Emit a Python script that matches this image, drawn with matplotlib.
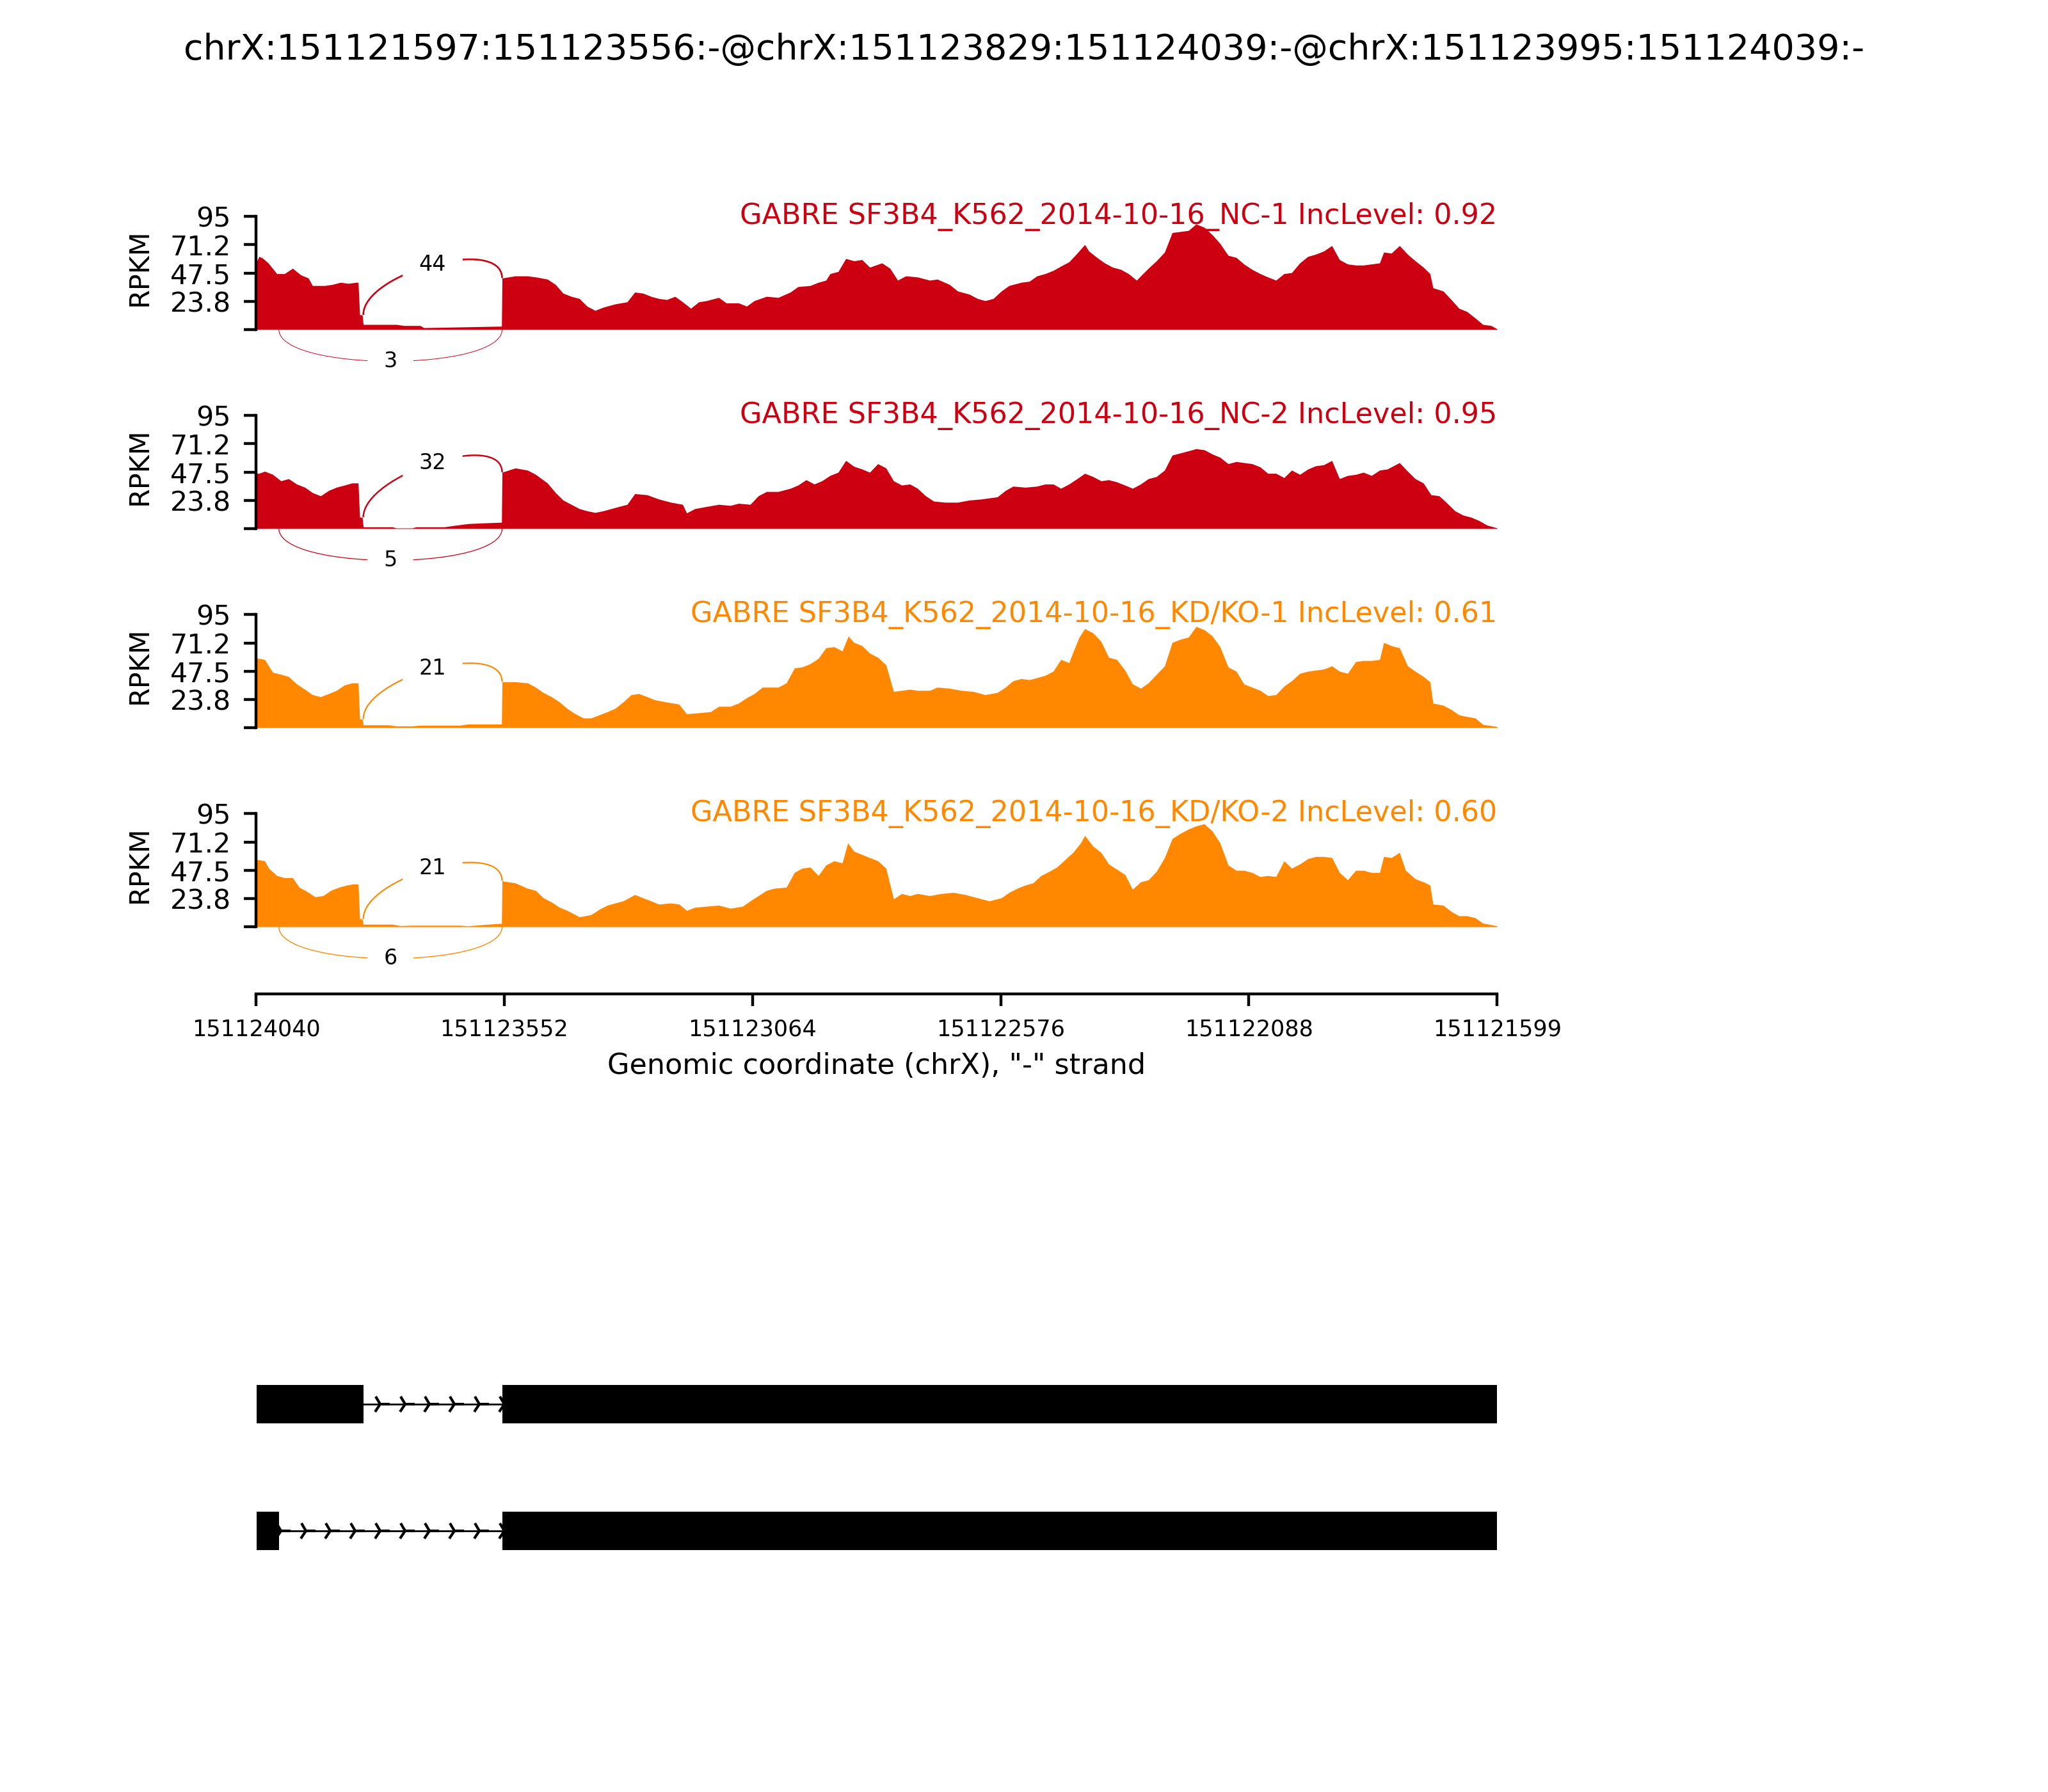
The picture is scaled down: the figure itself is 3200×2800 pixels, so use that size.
import numpy as np
import matplotlib
matplotlib.use('Agg')
import matplotlib.pyplot as plt
from matplotlib.path import Path
from matplotlib.patches import PathPatch, Rectangle

# Region (minus strand, so the axis runs from high to low coordinate)
region_left = 151124040
region_right = 151121599
event_title = 'chrX:151121597:151123556:-@chrX:151123829:151124039:-@chrX:151123995:151124039:-'
xlabel_text = 'Genomic coordinate (chrX), "-" strand'

sample_names = ['GABRE SF3B4_K562_2014-10-16_NC-1',
                'GABRE SF3B4_K562_2014-10-16_NC-2',
                'GABRE SF3B4_K562_2014-10-16_KD/KO-1',
                'GABRE SF3B4_K562_2014-10-16_KD/KO-2']
inc_levels = [0.92, 0.95, 0.61, 0.60]
sample_colors = ['#CC0011', '#CC0011', '#FF8800', '#FF8800']

# Junctions (genomic start, end) and read counts per sample
jxn_upper = (151123829, 151123556)
jxn_lower = (151123995, 151123556)
upper_counts = [44, 32, 21, 21]
lower_counts = [3, 5, 0, 6]

# Isoforms (exon start, end)
iso1_exons = [(151123829, 151124039), (151121597, 151123556)]
iso2_exons = [(151123995, 151124039), (151121597, 151123556)]

ymax = 95
ytick_labels = ['', '23.8', '47.5', '71.2', '95']
xtick_labels = ['151124040', '151123552', '151123064', '151122576', '151122088', '151121599']

# Coverage: distance in bp from region_left, and RPKM
nc1_off = [0, 6, 13, 24, 41, 56, 72, 88, 103, 111, 135, 150, 166, 182, 197, 201, 204, 209,
           211, 276, 291, 323, 330, 370, 417, 479, 483,
           484, 510, 534, 550, 573, 589, 604, 620, 636, 651, 667, 683, 706, 730, 745, 761, 777,
           792, 808, 824, 839, 855, 871, 886, 910, 925, 949, 965, 980, 1004, 1027, 1051, 1066,
           1090, 1106, 1121, 1129, 1145, 1160, 1176, 1192, 1207, 1231, 1247, 1262, 1278, 1301,
           1325, 1340, 1364, 1380, 1403, 1419, 1434, 1450, 1466, 1481, 1505, 1521, 1536, 1552,
           1568, 1583, 1599, 1615, 1630, 1638, 1654, 1669, 1685, 1701, 1716, 1732, 1740, 1755,
           1771, 1787, 1802, 1818, 1834, 1849, 1865, 1881, 1896, 1912, 1928, 1943, 1959, 1975,
           1990, 2006, 2022, 2037, 2053, 2069, 2084, 2100, 2116, 2131, 2147, 2163, 2178, 2194,
           2210, 2218, 2233, 2249, 2265, 2280, 2296, 2309, 2315, 2335, 2351, 2366, 2382, 2398,
           2413, 2429, 2441]
nc1_rpkm = [55.9, 61.4, 60.0, 55.9, 46.9, 46.9, 51.4, 45.9, 43.2, 36.9, 36.9, 37.8, 39.6, 38.7,
            39.6, 39.6, 12.3, 12.3,
            4.2, 4.2, 3.3, 3.3, 1.5, 1.8, 2.2, 2.7, 2.7,
            43.2, 45.0, 45.0, 44.1, 42.3, 37.8, 30.5, 27.8, 26.0, 19.6, 16.0, 18.7, 21.4, 23.2,
            31.4, 30.5, 27.8, 26.0, 25.1, 27.8, 23.2, 17.8, 23.2, 24.2, 26.9, 22.3, 22.3, 19.6,
            24.2, 27.8, 26.9, 31.4, 36.0, 36.9, 39.6, 41.4, 46.9, 48.7, 59.6, 57.7, 58.7, 52.3,
            55.9, 51.4, 41.4, 45.0, 44.1, 41.4, 42.3, 37.8, 32.3, 29.6, 26.0, 24.2, 26.0, 32.3,
            36.9, 39.6, 40.5, 45.0, 46.9, 49.6, 53.2, 56.8, 64.1, 71.4, 65.9, 60.5, 55.9, 52.3,
            50.5, 46.9, 41.4, 45.0, 51.4, 57.7, 65.0, 81.4, 82.3, 83.2, 88.6, 85.9, 79.5, 72.3,
            62.3, 60.5, 55.0, 50.5, 46.9, 44.1, 41.4, 46.9, 47.8, 55.9, 61.4, 63.2, 65.9, 70.5,
            58.7, 55.0, 54.1, 54.1, 55.0, 55.9, 65.0, 64.1, 70.5, 63.2, 57.7, 52.3, 46.9, 35.0,
            32.3, 25.0, 17.8, 15.0, 9.6, 4.2, 3.3, 0.5]

nc2_off = [0, 6, 17, 33, 49, 64, 80, 96, 111, 127, 143, 158, 174, 189, 201, 204, 209,
           211, 268, 276, 307, 315, 370, 385, 417, 448, 479, 483,
           484, 510, 534, 550, 573, 589, 604, 620, 636, 651, 667, 683, 706, 730, 745, 769, 792,
           816, 839, 847, 863, 886, 910, 933, 949, 972, 988, 1004, 1027, 1051, 1066, 1082, 1098,
           1113, 1129, 1145, 1160, 1176, 1192, 1207, 1223, 1239, 1254, 1270, 1286, 1301, 1317,
           1333, 1356, 1380, 1403, 1427, 1442, 1458, 1474, 1489, 1513, 1536, 1552, 1568, 1583,
           1599, 1615, 1630, 1646, 1662, 1677, 1693, 1709, 1724, 1740, 1755, 1771, 1787, 1802,
           1818, 1834, 1849, 1865, 1881, 1896, 1912, 1928, 1943, 1959, 1975, 1990, 2006, 2022,
           2037, 2053, 2069, 2084, 2100, 2116, 2131, 2147, 2163, 2178, 2194, 2210, 2225, 2249,
           2265, 2280, 2296, 2311, 2327, 2343, 2358, 2374, 2390, 2405, 2421, 2441]
nc2_rpkm = [46.4, 46.4, 48.2, 45.5, 40.1, 41.9, 37.4, 34.7, 30.2, 27.5, 32.0, 34.7, 36.5, 38.3,
            38.3, 9.5, 9.5,
            1.4, 1.4, 0.5, 0.5, 1.4, 1.4, 2.3, 4.1, 4.7, 5.2, 5.2,
            47.3, 50.9, 49.1, 45.5, 38.3, 30.2, 23.9, 20.3, 16.7, 14.9, 13.5, 14.9, 17.6, 20.3,
            29.3, 28.4, 24.8, 22.1, 20.3, 13.1, 16.7, 18.5, 20.3, 19.4, 21.2, 20.3, 27.5, 31.1,
            31.1, 33.8, 36.5, 41.0, 37.4, 40.1, 44.6, 47.3, 57.2, 52.3, 50.0, 47.3, 54.5, 50.9,
            40.1, 36.5, 37.4, 33.8, 27.5, 23.0, 22.1, 22.1, 23.9, 24.8, 25.7, 26.6, 32.0, 35.6,
            34.7, 35.6, 37.4, 37.4, 33.8, 37.4, 41.9, 46.4, 43.7, 40.1, 41.0, 39.2, 36.5, 33.8,
            37.4, 41.9, 43.7, 49.1, 61.7, 63.5, 65.3, 67.1, 66.2, 62.6, 59.9, 54.5, 56.3, 55.4,
            54.5, 51.8, 46.4, 46.4, 42.8, 49.1, 45.5, 50.0, 52.7, 53.6, 57.2, 41.9, 44.6, 45.5,
            47.3, 44.6, 49.1, 50.0, 55.4, 48.2, 41.9, 38.3, 28.4, 27.5, 21.2, 14.9, 11.3, 9.5,
            6.8, 2.9, 0.5]

kd1_off = [0, 6, 17, 33, 49, 64, 80, 96, 111, 127, 143, 158, 174, 189, 201, 204, 209,
           211, 260, 276, 307, 323, 401, 417, 483,
           484, 510, 534, 550, 565, 581, 597, 612, 628, 644, 659, 675, 691, 706, 722, 738, 753,
           769, 785, 808, 832, 847, 871, 894, 910, 933, 949, 965, 980, 996, 1027, 1043, 1059,
           1074, 1090, 1106, 1121, 1137, 1153, 1165, 1176, 1192, 1207, 1223, 1239, 1254, 1270,
           1286, 1301, 1325, 1340, 1364, 1387, 1411, 1434, 1458, 1474, 1489, 1505, 1521, 1536,
           1552, 1568, 1583, 1599, 1607, 1619, 1630, 1646, 1662, 1677, 1693, 1709, 1724, 1740,
           1755, 1771, 1787, 1802, 1818, 1834, 1849, 1865, 1881, 1896, 1912, 1928, 1943, 1959,
           1975, 1990, 2006, 2022, 2037, 2053, 2069, 2084, 2100, 2116, 2131, 2147, 2163, 2178,
           2194, 2210, 2218, 2233, 2249, 2265, 2280, 2296, 2309, 2315, 2335, 2351, 2366, 2382,
           2398, 2413, 2441]
kd1_rpkm = [58.2, 58.2, 57.3, 46.5, 44.8, 43.0, 36.7, 32.2, 27.7, 26.0, 28.6, 31.3, 35.8, 37.6,
            37.6, 7.2, 7.2,
            2.3, 2.3, 1.4, 1.4, 2.0, 2.0, 3.0, 3.0,
            38.5, 38.5, 37.6, 34.0, 29.5, 26.0, 21.5, 16.1, 11.6, 8.1, 8.1, 10.7, 13.4, 16.1,
            21.5, 27.7, 28.6, 26.0, 23.3, 21.5, 19.7, 11.6, 12.5, 13.4, 17.9, 17.9, 20.6, 25.1,
            28.6, 34.0, 34.0, 37.6, 50.1, 51.0, 53.7, 58.2, 67.1, 68.0, 64.4, 77.0, 71.6, 68.9,
            62.6, 59.1, 52.8, 30.4, 31.3, 32.2, 31.3, 31.3, 34.0, 33.1, 31.3, 30.4, 27.7, 29.5,
            34.0, 39.4, 41.2, 40.3, 42.0, 43.9, 47.4, 57.3, 54.6, 63.5, 76.0, 83.2, 79.7, 72.5,
            59.1, 57.3, 48.3, 36.7, 33.1, 37.6, 44.8, 51.9, 71.6, 74.3, 76.1, 85.0, 82.3, 77.0,
            68.0, 51.0, 47.4, 36.7, 34.0, 31.3, 26.9, 27.7, 34.9, 39.4, 45.6, 47.4, 48.3, 49.2,
            51.9, 47.4, 45.6, 55.5, 56.4, 56.4, 57.3, 71.6, 68.9, 67.1, 51.9, 47.4, 43.0, 38.5,
            20.6, 18.8, 15.2, 10.7, 9.3, 8.1, 2.7, 0.9]

kd2_off = [0, 6, 17, 25, 41, 56, 72, 85, 100, 116, 132, 147, 163, 179, 191, 201, 204, 209,
           211, 268, 283, 307, 401, 417, 448, 479, 483,
           484, 510, 534, 550, 565, 581, 597, 612, 636, 659, 675, 691, 706, 722, 745, 761, 777,
           792, 816, 832, 847, 863, 886, 910, 933, 957, 972, 988, 1004, 1019, 1043, 1059, 1074,
           1090, 1106, 1121, 1137, 1153, 1164, 1176, 1192, 1207, 1223, 1239, 1254, 1270, 1286,
           1301, 1325, 1348, 1372, 1395, 1419, 1442, 1466, 1481, 1497, 1513, 1528, 1544, 1560,
           1575, 1591, 1607, 1622, 1630, 1646, 1662, 1677, 1693, 1709, 1724, 1740, 1755, 1771,
           1787, 1802, 1818, 1834, 1849, 1865, 1881, 1896, 1912, 1928, 1943, 1959, 1975, 1990,
           2006, 2022, 2037, 2053, 2069, 2084, 2100, 2116, 2131, 2147, 2163, 2178, 2194, 2210,
           2218, 2233, 2249, 2261, 2280, 2296, 2309, 2315, 2335, 2351, 2366, 2382, 2398, 2413,
           2441]
kd2_rpkm = [56.3, 56.3, 55.4, 49.2, 43.0, 41.2, 41.2, 33.2, 29.7, 25.2, 26.1, 30.5, 33.2, 35.0,
            35.9, 35.9, 6.6, 6.6,
            2.1, 2.1, 0.9, 1.2, 1.2, 0.7, 1.8, 2.7, 2.7,
            38.5, 36.8, 32.3, 30.5, 24.3, 20.8, 16.3, 13.7, 8.3, 10.1, 14.6, 18.1, 19.9, 21.7,
            27.0, 24.3, 21.7, 19.0, 19.9, 19.0, 13.7, 16.3, 17.2, 18.1, 15.5, 17.2, 21.7, 26.1,
            30.5, 32.3, 33.2, 45.6, 49.2, 50.1, 43.0, 51.9, 55.4, 53.6, 70.5, 63.4, 60.7, 58.1,
            55.4, 49.2, 23.4, 27.9, 26.1, 27.9, 26.1, 27.9, 28.8, 27.0, 24.3, 21.7, 24.3, 28.8,
            32.3, 35.0, 36.8, 43.0, 46.5, 50.1, 56.3, 62.5, 70.5, 76.7, 67.8, 62.5, 52.7, 48.3,
            43.9, 31.4, 37.7, 39.4, 46.5, 58.1, 74.1, 78.5, 82.1, 84.7, 86.5, 80.3, 70.5, 51.9,
            47.4, 47.4, 45.6, 42.1, 43.0, 42.1, 55.4, 49.2, 52.7, 57.2, 59.0, 59.0, 58.1, 45.6,
            39.4, 47.4, 47.4, 45.6, 45.6, 59.0, 58.1, 62.5, 47.4, 40.3, 37.7, 35.0, 19.0, 18.1,
            12.8, 9.2, 9.2, 7.5, 3.0, 0.7]

coverage = [(nc1_off, nc1_rpkm), (nc2_off, nc2_rpkm), (kd1_off, kd1_rpkm), (kd2_off, kd2_rpkm)]

fig = plt.figure(figsize=(8, 7), dpi=400)
fig.suptitle(event_title, fontsize=10, y=0.972, va='center')

ymin = -0.5 * ymax
h = -3 * ymin / 4
ax_left, ax_width = 0.125, 0.606
panel_h = 0.0946
panel_bottoms = [0.7846, 0.6735, 0.5624, 0.4513]

for i, (off, rpkm) in enumerate(coverage):
    ax = fig.add_axes([ax_left, panel_bottoms[i], ax_width, panel_h])
    color = sample_colors[i]
    off = np.array(off)
    rpkm = np.array(rpkm)
    pos = region_left - off
    ax.fill_between(pos, rpkm, 0, color=color, lw=0)

    # upper junction: from last base before the jump to first base after it
    s1, s2 = jxn_upper
    il = np.searchsorted(off, region_left - s1, side='left') - 1
    ir = np.searchsorted(off, region_left - s2, side='left')
    yl, yr = rpkm[il], rpkm[ir]
    pts = [(s1, yl), (s1, yl + h), (s2, yr + h), (s2, yr)]
    codes = [Path.MOVETO, Path.CURVE4, Path.CURVE4, Path.CURVE4]
    n = upper_counts[i]
    ax.add_patch(PathPatch(Path(pts, codes), ec=color, fc='none', lw=0.29 * np.log10(n + 1)))
    mx = (s1 + s2) / 2
    my = (yl + 3 * (yl + h) + 3 * (yr + h) + yr) / 8
    ax.text(mx, my, str(n), fontsize=6, ha='center', va='center', backgroundcolor='w')

    # lower junction
    n = lower_counts[i]
    if n > 0:
        s1, s2 = jxn_lower
        pts = [(s1, 0), (s1, -h), (s2, -h), (s2, 0)]
        ax.add_patch(PathPatch(Path(pts, codes), ec=color, fc='none', lw=0.29 * np.log10(n + 1)))
        ax.text((s1 + s2) / 2, -0.75 * h, str(n), fontsize=6, ha='center', va='center',
                backgroundcolor='w')

    ax.set_xlim(region_left, region_right)
    ax.set_ylim(ymin, ymax)
    ax.spines['top'].set_visible(False)
    ax.spines['right'].set_visible(False)
    ax.spines['left'].set_bounds(0, ymax)
    ax.set_yticks(np.linspace(0, ymax, 5))
    ax.set_yticklabels(ytick_labels, fontsize=7.7)
    ax.set_ylabel('RPKM', fontsize=7.7)
    ax.yaxis.set_label_coords(-0.083, 0.70)
    ax.text(region_right, ymax, '%s IncLevel: %.2f' % (sample_names[i], inc_levels[i]),
            fontsize=8, color=color, ha='right', va='center')
    ax.patch.set_visible(False)

    if i < len(coverage) - 1:
        ax.spines['bottom'].set_visible(False)
        ax.set_xticks([])
    else:
        ax.spines['bottom'].set_position(('outward', 3))
        ax.set_xticks(np.linspace(region_left, region_right, 6))
        ax.set_xticklabels(xtick_labels, fontsize=6.3)
        ax.set_xlabel(xlabel_text, fontsize=8)
        ax.xaxis.set_label_coords(0.5, -0.405)

# gene structure
gax = fig.add_axes([ax_left, 0.1104, ax_width, 0.1414])
gax.set_xlim(region_left, region_right)
gax.set_ylim(-0.5, 1.5)
gax.axis('off')
exon_h = 0.3
arrow_step = (region_left - region_right) / 50.0
for yloc, exons in [(1, iso1_exons), (0, iso2_exons)]:
    exons = sorted(exons, key=lambda e: -e[1])
    for (es, ee) in exons:
        gax.add_patch(Rectangle((ee, yloc - exon_h / 2), es - ee, exon_h, fc='k', lw=0, zorder=3))
    for a, b in zip(exons[:-1], exons[1:]):
        intron_start, intron_end = a[0], b[1]
        gax.plot([intron_start, intron_end], [yloc, yloc], color='k', lw=0.5, zorder=1)
        k = np.arange(0, 51)
        locs = region_left - k * arrow_step
        locs = locs[(locs <= intron_start + 5) & (locs >= intron_end - 5)]
        gax.plot(locs, [yloc] * len(locs), ls='none', marker='4', color='k',
                 markersize=5.4, markeredgewidth=0.75, zorder=2)

fig.savefig('out.png', dpi=400)
